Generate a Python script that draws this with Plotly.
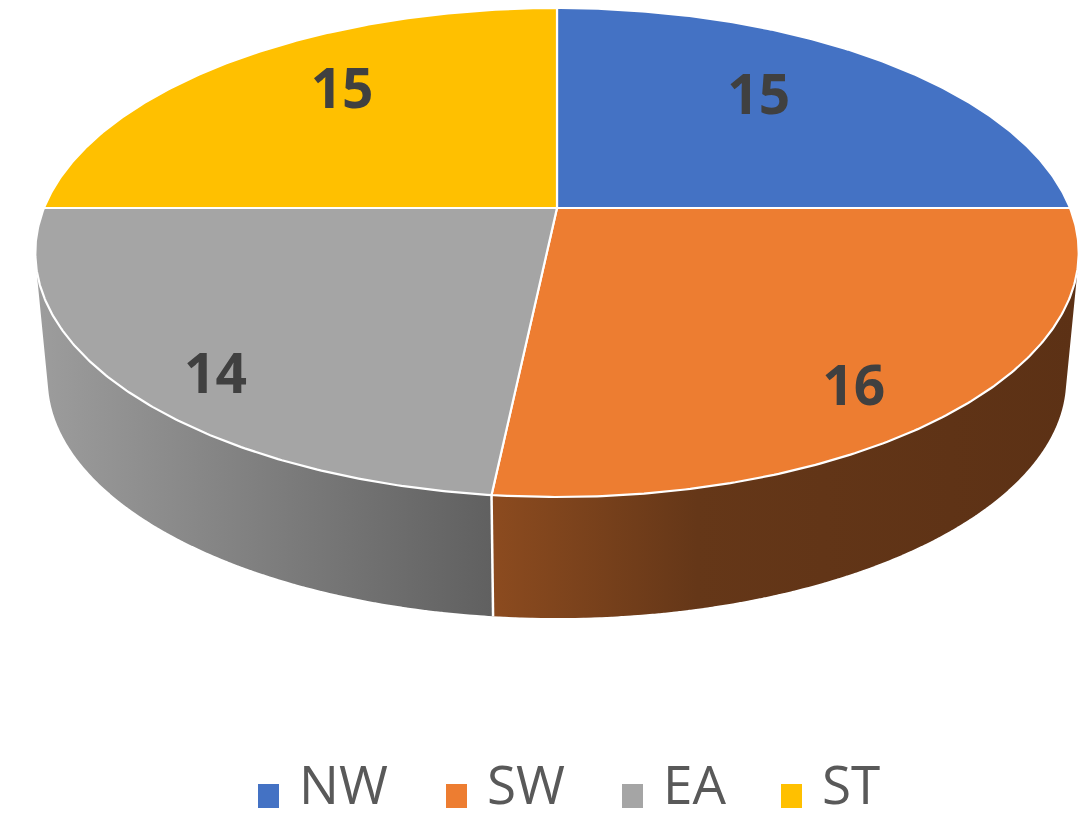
import numpy as np
import plotly.graph_objects as go

# ---------------- data ----------------
categories = ["NW", "SW", "EA", "ST"]
values = [15, 16, 14, 15]
top_colors = ["#4472C4", "#ED7D31", "#A5A5A5", "#FFC000"]
# side-wall shading (left -> right gradient)
side_colors = [
    [[0, "#2f528f"], [1, "#203864"]],
    [[0, "#8c4b1f"], [0.35, "#653718"], [1, "#5c3115"]],
    [[0, "#9d9d9d"], [1, "#606060"]],
    [[0, "#bf9000"], [1, "#7f6000"]],
]

# ---------------- geometry (style) ----------------
W, H = 1091, 822
OFF = 8                  # page body margin compensation
CX, CY = 557, 208        # projected pie centre on top face
A, B = 513, 236.4        # horizontal / vertical radius scale
K = 0.182                # perspective factor
DEPTH = 128              # slab thickness (px)
S_BOT = 0.976            # bottom face scale


def proj(theta_deg, r=1.0, bottom=False):
    t = np.radians(theta_deg)
    u = r * np.sin(t)
    v = r * np.cos(t)
    w = 1 + K * v
    s = S_BOT if bottom else 1.0
    x = CX + A * s * u / w
    y = CY + (DEPTH if bottom else 0) - B * s * v / w
    return x, y


def signed_area(pts):
    a = 0.0
    for k in range(len(pts)):
        x0, y0 = pts[k]
        x1, y1 = pts[(k + 1) % len(pts)]
        a += x0 * y1 - x1 * y0
    return a / 2


total = sum(values)
bounds = np.concatenate([[0], np.cumsum(values)]) / total * 360.0

fig = go.Figure()

# ---- side walls (front half only) ----
for i, cat in enumerate(categories):
    lo, hi = max(bounds[i], 90), min(bounds[i + 1], 270)
    if hi <= lo:
        continue
    n = max(int((hi - lo) / 0.5), 2)
    th = np.linspace(lo, hi, n + 1)
    xs, ys = [], []
    for j in range(n):
        t0, t1 = th[j], min(th[j + 1] + 0.3, hi)
        p = [proj(t0), proj(t1), proj(t1, bottom=True), proj(t0, bottom=True)]
        if signed_area(p) < 0:
            p = p[::-1]
        xs += [q[0] for q in p] + [p[0][0], None]
        ys += [q[1] for q in p] + [p[0][1], None]
    fig.add_trace(go.Scatter(
        x=xs, y=ys, mode="lines", fill="toself",
        line=dict(width=0), fillgradient=dict(type="horizontal", colorscale=side_colors[i]),
        hoverinfo="skip", showlegend=False))

# white separators on the wall
for b in bounds[1:-1]:
    if 90 < b < 270:
        x0, y0 = proj(b)
        x1, y1 = proj(b, bottom=True)
        fig.add_trace(go.Scatter(x=[x0, x1], y=[y0, y1], mode="lines",
                                 line=dict(color="white", width=2.5),
                                 hoverinfo="skip", showlegend=False))

# ---- top faces ----
for i, cat in enumerate(categories):
    th = np.linspace(bounds[i], bounds[i + 1], 200)
    px, py = proj(th)
    xs = [CX] + list(px) + [CX]
    ys = [CY] + list(py) + [CY]
    fig.add_trace(go.Scatter(
        x=xs, y=ys, mode="lines", fill="toself", fillcolor=top_colors[i],
        line=dict(color="white", width=2.2), name=cat,
        hovertemplate=f"{cat}: {values[i]}<extra></extra>", showlegend=False))

# ---- data labels ----
lx, ly = [], []
for i in range(len(values)):
    m = (bounds[i] + bounds[i + 1]) / 2
    vm = np.cos(np.radians(m))
    um = np.sin(np.radians(m))
    r = 0.705 - 0.12 * vm - 0.03 * um
    x, y = proj(m, r=r)
    lx.append(x)
    ly.append(y + 8 - 32 * vm)
fig.add_trace(go.Scatter(
    x=lx, y=ly, mode="text", text=[str(v) for v in values],
    textfont=dict(family="Open Sans", size=55, color="#404040", weight="bold"),
    hoverinfo="skip", showlegend=False))

# ---- legend (manual) ----
LEG_X = [258, 446, 622, 781]
LEG_Y = 796
for i, cat in enumerate(categories):
    fig.add_shape(type="rect", xref="x", yref="y",
                  x0=LEG_X[i], x1=LEG_X[i] + 21, y0=LEG_Y - 12, y1=LEG_Y + 12,
                  fillcolor=top_colors[i], line=dict(width=0))
    fig.add_annotation(x=LEG_X[i] + 40, y=H - 1, xref="x", yref="y",
                       text=cat, showarrow=False, xanchor="left", yanchor="bottom",
                       borderpad=0,
                       font=dict(family="Open Sans", size=53, color="#595959"))

fig.update_layout(
    width=W - OFF, height=H - OFF,
    margin=dict(l=0, r=0, t=0, b=0),
    paper_bgcolor="white", plot_bgcolor="white",
    xaxis=dict(range=[OFF, W], visible=False, fixedrange=True),
    yaxis=dict(range=[H, OFF], visible=False, fixedrange=True),
    showlegend=False,
)

fig.write_html("out.html")
